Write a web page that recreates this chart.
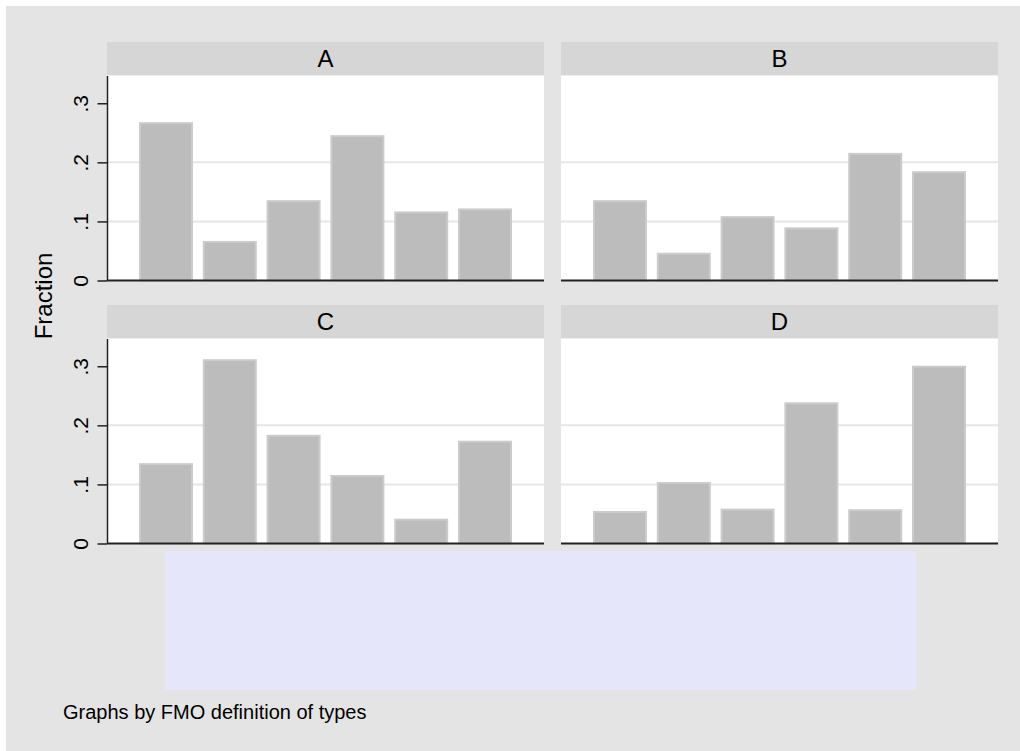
<!DOCTYPE html>
<html>
<head>
<meta charset="utf-8">
<script src="https://cdn.jsdelivr.net/npm/d3@7"></script>
<style>
  body { margin: 0; background: #ffffff; }
  svg { display: block; font-family: "Liberation Sans", Arial, sans-serif; }
</style>
</head>
<body>
<div id="chart"></div>
<script>
// categories on the x axis (6 types, no tick labels shown)
var categories = [1, 2, 3, 4, 5, 6];

// panel titles
var panels = ["A", "B", "C", "D"];

// fraction per category, one array per panel
var fracA = [0.268, 0.067, 0.136, 0.246, 0.117, 0.122];
var fracB = [0.136, 0.047, 0.109, 0.090, 0.216, 0.185];
var fracC = [0.136, 0.312, 0.184, 0.116, 0.042, 0.174];
var fracD = [0.055, 0.104, 0.059, 0.239, 0.058, 0.301];

var yTicks = [0, 0.1, 0.2, 0.3];
var yTickLabels = ["0", ".1", ".2", ".3"];
var gridTicks = [0.1, 0.2];

var yLabel = "Fraction";
var note = "Graphs by FMO definition of types";

var series = [fracA, fracB, fracC, fracD];

var w = 1020;
var h = 751;

var colX = [107, 561];
var rowY = [42, 305];
var panelW = 437;
var stripH = 33.5;
var plotH = 205;

var svg = d3
  .select("#chart")
  .append("svg")
  .attr("width", w)
  .attr("height", h);

// outer graph region
svg
  .append("rect")
  .attr("x", 6)
  .attr("y", 6)
  .attr("width", w - 6)
  .attr("height", h - 6)
  .attr("fill", "#e4e4e4");

var xScale = d3
  .scaleBand()
  .domain(categories)
  .range([32, 405])
  .paddingInner(0.154)
  .paddingOuter(0);

var yScale = d3
  .scaleLinear()
  .domain([0, 0.347])
  .range([plotH, 0]);

panels.forEach(function (name, i) {
  var col = i % 2;
  var row = Math.floor(i / 2);
  var g = svg
    .append("g")
    .attr("transform", "translate(" + colX[col] + "," + rowY[row] + ")");

  // strip with title
  g.append("rect")
    .attr("x", 0)
    .attr("y", 0)
    .attr("width", panelW)
    .attr("height", stripH)
    .attr("fill", "#d6d6d6");

  g.append("text")
    .attr("x", panelW / 2)
    .attr("y", stripH / 2)
    .attr("dy", "0.36em")
    .attr("text-anchor", "middle")
    .style("font-size", "24px")
    .attr("fill", "#000")
    .text(name);

  var plot = g.append("g").attr("transform", "translate(0," + stripH + ")");

  plot
    .append("rect")
    .attr("width", panelW)
    .attr("height", plotH)
    .attr("fill", "#ffffff");

  // gridlines
  plot
    .selectAll(".grid")
    .data(gridTicks)
    .enter()
    .append("line")
    .attr("x1", 0)
    .attr("x2", panelW)
    .attr("y1", function (d) { return yScale(d); })
    .attr("y2", function (d) { return yScale(d); })
    .attr("stroke", "#e6e6e6")
    .attr("stroke-width", 2);

  // bars
  plot
    .selectAll(".bar")
    .data(series[i])
    .enter()
    .append("rect")
    .attr("class", "bar")
    .attr("x", function (d, j) { return xScale(categories[j]) + 1; })
    .attr("y", function (d) { return yScale(d) + 1; })
    .attr("width", xScale.bandwidth() - 2)
    .attr("height", function (d) { return plotH - yScale(d) - 1; })
    .attr("fill", "#bcbcbc")
    .attr("stroke", "#cbcbcb")
    .attr("stroke-width", 2);

  // baseline
  plot
    .append("line")
    .attr("x1", 0)
    .attr("x2", panelW)
    .attr("y1", plotH)
    .attr("y2", plotH)
    .attr("stroke", "#222")
    .attr("stroke-width", 2);

  // y axis only on the left column
  if (col === 0) {
    var yAxis = d3
      .axisLeft(yScale)
      .tickValues(yTicks)
      .tickFormat(function (d, k) { return yTickLabels[k]; })
      .tickSize(9.5)
      .tickSizeOuter(0);

    var ax = plot.append("g").call(yAxis);
    ax.select(".domain").attr("stroke", "#222").attr("stroke-width", 1.5);
    ax.selectAll(".tick line").attr("stroke", "#222").attr("stroke-width", 1.5);
    ax.selectAll(".tick text")
      .attr("transform", "rotate(-90)")
      .attr("x", 0)
      .attr("y", -19.5)
      .attr("dy", 0)
      .attr("text-anchor", "middle")
      .attr("fill", "#000")
      .style("font-size", "21px")
      .style("font-family", "'Liberation Sans', Arial, sans-serif");
  }
});

// y axis title
svg
  .append("text")
  .attr("transform", "translate(52,296) rotate(-90)")
  .attr("text-anchor", "middle")
  .style("font-size", "24px")
  .attr("fill", "#000")
  .text(yLabel);

// empty legend area
svg
  .append("rect")
  .attr("x", 165)
  .attr("y", 551)
  .attr("width", 751)
  .attr("height", 139)
  .attr("fill", "#e6e6fb");

// note
svg
  .append("text")
  .attr("x", 63)
  .attr("y", 719)
  .style("font-size", "20px")
  .attr("fill", "#000")
  .text(note);
</script>
</body>
</html>
